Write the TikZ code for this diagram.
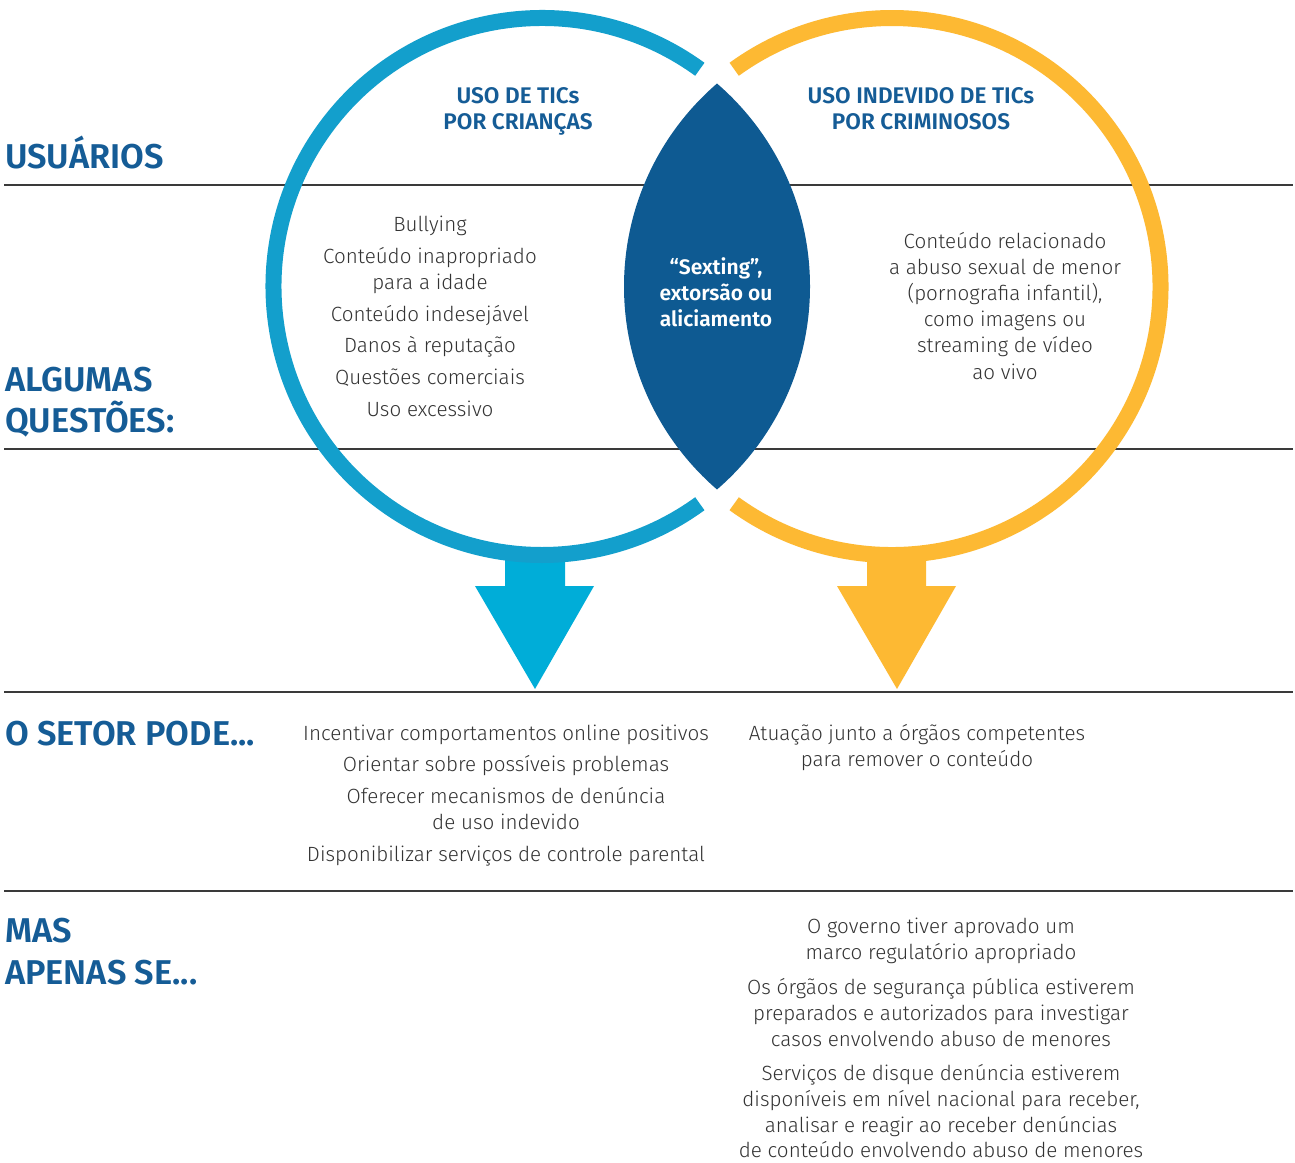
\documentclass[tikz,border=0pt]{standalone}
\usepackage{fontspec}
\setmainfont{Fira Sans}[UprightFont=* Light, BoldFont=* SemiBold]
\definecolor{ringblue}{HTML}{139FCC}
\definecolor{arrowblue}{HTML}{00ADD8}
\definecolor{ringyellow}{HTML}{FDB933}
\definecolor{darkblue}{HTML}{0E5A92}
\definecolor{headblue}{HTML}{155C96}
\definecolor{bodygray}{HTML}{333333}
\definecolor{rulegray}{HTML}{3A3A3A}
\begin{document}
\begin{tikzpicture}[x=1pt,y=-1pt,
  rule/.style={draw=rulegray, line width=1.6pt},
  ring/.style={line width=16pt},
  heading/.style={anchor=base west, inner sep=0pt, text=headblue, font=\bfseries\fontsize{34.4}{40}\selectfont},
  ctitle/.style={anchor=base, inner sep=0pt, text=headblue, font=\bfseries\fontsize{22.6}{26}\selectfont},
  lenstext/.style={anchor=base, inner sep=0pt, text=white, font=\bfseries\fontsize{21}{26}\selectfont},
  body/.style={anchor=base, inner sep=0pt, text=bodygray, font=\fontsize{20.6}{26}\selectfont}]
\useasboundingbox (0,0) rectangle (1295,1162);
\fill[white] (0,0) rectangle (1295,1162);
% horizontal rules
\foreach \y [count=\i] in {185,449,692,891}{
  \coordinate (ruleA\i) at (4,\y);
  \coordinate (ruleB\i) at (1293,\y);
  \draw[rule] (ruleA\i) -- (ruleB\i);
}
% circle centres
\coordinate (cL) at (542,286.5);
\coordinate (cR) at (892,286.5);
% lens
\begin{scope}
  \clip (cL) circle (268pt);
  \fill[darkblue] (cR) circle (268pt);
\end{scope}
% arrows
\fill[arrowblue] (505,552) -- (565,552) -- (565,586) -- (594,586) -- (535,689) -- (475,586) -- (505,586) -- cycle;
\fill[ringyellow] (867,552) -- (926,552) -- (926,586) -- (956,586) -- (897,689) -- (837,586) -- (867,586) -- cycle;
% rings
\draw[ring, ringblue] (cL) ++(54:268.5pt) arc[start angle=54, end angle=306, radius=268.5pt];
\draw[ring, ringyellow] (cR) ++(-126:268.5pt) arc[start angle=-126, end angle=126, radius=268.5pt];
% headings
\node[heading] (hUsuarios) at (5,168) {USUÁRIOS};
\node[heading] (hAlgumas) at (5,391) {ALGUMAS};
\node[heading] (hQuestoes) at (5,432) {QUESTÕES:};
\node[heading] (hSetor) at (5,745) {O SETOR PODE...};
\node[heading] (hMas) at (5,942) {MAS};
\node[heading] (hApenas) at (5,984) {APENAS SE...};
% circle titles
\node[ctitle] (tL1) at (518,103) {USO DE TICs};
\node[ctitle] (tL2) at (518,129) {POR CRIANÇAS};
\node[ctitle] (tR1) at (921,103) {USO INDEVIDO DE TICs};
\node[ctitle] (tR2) at (921,129) {POR CRIMINOSOS};
% lens text
\node[lenstext] (lens1) at (716,274) {“Sexting”,};
\node[lenstext] (lens2) at (716,300) {extorsão ou};
\node[lenstext] (lens3) at (716,326) {aliciamento};
% left issues
\foreach \y/\t [count=\i] in {224/Bullying, 256/{Conteúdo inapropriado}, 282/{para a idade}, 314/{Conteúdo indesejável}, 345/{Danos à reputação}, 377/{Questões comerciais}, 409/{Uso excessivo}}
  \node[body] (qL\i) at (430,\y+7) {\t};
% right issues
\foreach \y/\t [count=\i] in {241/{Conteúdo relacionado}, 267/{a abuso sexual de menor}, 293/{(pornografia infantil),}, 319/{como imagens ou}, 345/{streaming de vídeo}, 372/{ao vivo}}
  \node[body] (qR\i) at (1005,\y+7) {\t};
% sector left
\foreach \y/\t [count=\i] in {733/{Incentivar comportamentos online positivos}, 764/{Orientar sobre possíveis problemas}, 796/{Oferecer mecanismos de denúncia}, 822/{de uso indevido}, 854/{Disponibilizar serviços de controle parental}}
  \node[body] (sL\i) at (506,\y+7) {\t};
% sector right
\foreach \y/\t [count=\i] in {733/{Atuação junto a órgãos competentes}, 759/{para remover o conteúdo}}
  \node[body] (sR\i) at (917,\y+7) {\t};
% only if
\foreach \y/\t [count=\i] in {926/{O governo tiver aprovado um}, 952/{marco regulatório apropriado}, 987/{Os órgãos de segurança pública estiverem}, 1013/{preparados e autorizados para investigar}, 1039/{casos envolvendo abuso de menores}, 1073/{Serviços de disque denúncia estiverem}, 1099/{disponíveis em nível nacional para receber,}, 1125/{analisar e reagir ao receber denúncias}, 1150/{de conteúdo envolvendo abuso de menores}}
  \node[body] (m\i) at (941,\y+7) {\t};
\end{tikzpicture}
\end{document}
